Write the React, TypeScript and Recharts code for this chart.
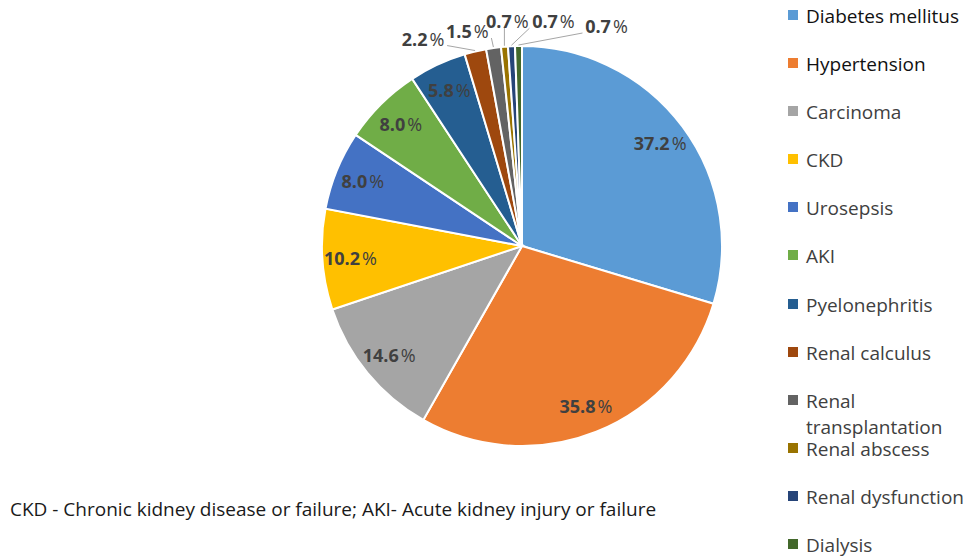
import React from 'react';
import { PieChart, Pie, Cell, Legend } from 'recharts';

const causes = [
  'Diabetes mellitus',
  'Hypertension',
  'Carcinoma',
  'CKD',
  'Urosepsis',
  'AKI',
  'Pyelonephritis',
  'Renal calculus',
  'Renal transplantation',
  'Renal abscess',
  'Renal dysfunction',
  'Dialysis',
];
const percents = [37.2, 35.8, 14.6, 10.2, 8.0, 8.0, 5.8, 2.2, 1.5, 0.7, 0.7, 0.7];
const colors = [
  '#5B9BD5', '#ED7D31', '#A5A5A5', '#FFC000', '#4472C4', '#70AD47',
  '#255E91', '#9E480E', '#636363', '#997300', '#264478', '#43682B',
];

const data = causes.map((name, i) => ({ name, value: percents[i] }));

// the thin slices get their labels pulled outside, nudged off the rim
const outsideNudge: Record<number, [number, number]> = {
  7: [-52, -12],
  8: [-26, -16],
  9: [3, -25],
  10: [42, -24],
  11: [88, -19],
};

const RAD = Math.PI / 180;
const FONT = '"Open Sans", "Noto Sans", sans-serif';

function PctText({ x, y, value }: { x: number; y: number; value: number }) {
  return (
    <text x={x} y={y} textAnchor="middle" dominantBaseline="central"
      fill="#404040" fontSize={18} fontWeight={700} fontFamily={FONT}>
      {value.toFixed(1)}
      <tspan dx={2} fontWeight={400}>%</tspan>
    </text>
  );
}

function renderLabel(props: any) {
  const { cx, cy, midAngle, outerRadius, index, value } = props;
  const cos = Math.cos(-midAngle * RAD);
  const sin = Math.sin(-midAngle * RAD);
  const nudge = outsideNudge[index];
  if (!nudge) {
    const r = outerRadius * 0.86;
    return <PctText x={cx + r * cos} y={cy + r * sin} value={Number(value)} />;
  }
  const rx = cx + (outerRadius + 1) * cos;
  const ry = cy + (outerRadius + 1) * sin;
  const lx = rx + nudge[0];
  const ly = ry + nudge[1];
  const ex = lx - Math.max(-24, Math.min(24, nudge[0]));
  const ey = ly + 7;
  return (
    <g>
      <line x1={rx} y1={ry} x2={ex} y2={ey} stroke="#A6A6A6" strokeWidth={1} />
      <PctText x={lx} y={ly} value={Number(value)} />
    </g>
  );
}

function LegendList() {
  return (
    <div style={{ fontFamily: FONT }}>
      {causes.map((name, i) => (
        <div key={name} style={{ position: 'relative', height: 48.1 }}>
          <span style={{
            position: 'absolute', left: 6, top: 6, width: 10, height: 10,
            background: colors[i],
          }} />
          <span style={{
            position: 'absolute', left: 24, top: -1, width: 165,
            fontSize: 19, lineHeight: '26px', color: i < 2 ? '#111' : '#404040',
          }}>
            {name}
          </span>
        </div>
      ))}
    </div>
  );
}

export default function App() {
  return (
    <div style={{ position: 'absolute', left: 0, top: 0, width: 965, height: 557, background: '#fff' }}>
      <PieChart width={965} height={557} margin={{ top: 0, right: 0, bottom: 0, left: 0 }}>
        <Pie
          data={data}
          dataKey="value"
          nameKey="name"
          cx={522}
          cy={246}
          outerRadius={200}
          startAngle={90}
          endAngle={-270}
          stroke="#fff"
          strokeWidth={2}
          label={renderLabel}
          labelLine={false}
          isAnimationActive={false}
        >
          {data.map((d, i) => (
            <Cell key={d.name} fill={colors[i]} />
          ))}
        </Pie>
        <Legend
          layout="vertical"
          align="right"
          verticalAlign="top"
          content={<LegendList />}
          wrapperStyle={{ left: 782, top: 4, width: 183 }}
        />
      </PieChart>
      <div style={{
        position: 'absolute', left: 10, top: 496, fontFamily: FONT, fontSize: 19,
        color: '#1a1a1a', whiteSpace: 'nowrap',
      }}>
        CKD - Chronic kidney disease or failure; AKI- Acute kidney injury or failure
      </div>
    </div>
  );
}
